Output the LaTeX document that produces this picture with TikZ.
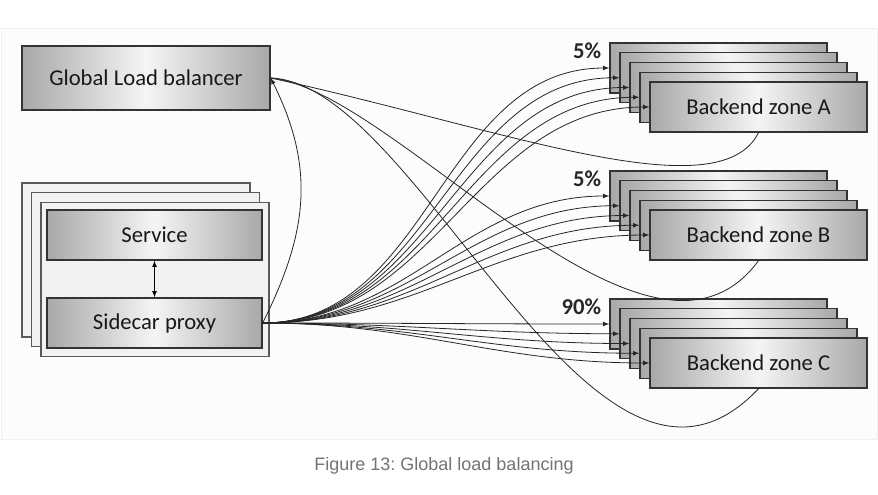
\documentclass[tikz,border=0pt]{standalone}
\usepackage{fontspec}
\setmainfont{Carlito}
\newfontfamily\capfont{Liberation Sans}
\usetikzlibrary{arrows}
\frenchspacing

\begin{document}
\begin{tikzpicture}[x=0.75pt,y=0.75pt,>=latex,
  box/.style={draw=black!80,line width=1pt,left color=black!34,right color=black!34,
    middle color=black!4,text=black!90,font=\fontsize{17}{20}\selectfont,inner sep=0pt},
  glbbox/.style={box,minimum width=186pt,minimum height=48pt},
  podbox/.style={box,minimum width=161.25pt,minimum height=37.5pt},
  backend/.style={box,minimum width=162.75pt,minimum height=37.5pt},
  sheet/.style={draw=black!65,line width=0.8pt,fill=black!5,
    minimum width=171pt,minimum height=115.5pt},
  pct/.style={font=\fontsize{17}{20}\selectfont\bfseries,text=black!85,inner sep=0pt,anchor=east},
  flow/.style={->,line width=0.6pt,black!85},
  link/.style={line width=0.6pt,black!85},
  caption/.style={font=\capfont\fontsize{13.5}{16}\selectfont,text=black!55}]
\useasboundingbox (0,0) rectangle (878,-494);
\draw[black!6,fill=black!1] (1,-28) rectangle (877,-439);

\node[glbbox] (glb) at (146,-78) {Global Load balancer};

\foreach \i in {0,1,2}
  \node[sheet] (sheet\i) at ({136+9.5*\i},{-260-9.75*\i}) {};
\node[podbox] (svc) at (154.5,-235) {Service};
\node[podbox] (proxy) at (154.5,-323) {Sidecar proxy};
\draw[<->,line width=0.6pt] (svc) -- (proxy);

\foreach \z/\t/\p in {A/43/5\%,B/171/5\%,C/299/90\%} {
  \foreach \i in {1,...,4}
    \node[backend] (\z\i) at ({718.5+10*(\i-1)},{-(\t+25+9.75*(\i-1))}) {};
  \node[backend] (\z5) at (758.5,{-(\t+64)}) {Backend zone \z};
  \node[pct] (pct\z) at ([xshift=-6pt,yshift=-6.4pt]\z1.north west) {\p};
}

\foreach \z in {A,B,C}
  \foreach \i in {1,...,5}
    \draw[flow] (proxy.east) to[out=0,in=180] (\z\i.west);

\draw[flow] (proxy.east) .. controls +(45,90) and +(45,-90) .. (glb.east);
\draw[link] (A5.south) .. controls +(-40,-80) and +(230,-50) .. (glb.east);
\draw[link] (B5.south) .. controls +(-110,-150) and +(125,-12) .. (glb.east);
\draw[link] (C5.south) .. controls +(-165,-175) and +(150,-5) .. (glb.east);

\node[caption] (cap) at (444,-466) {Figure 13: Global load balancing};
\end{tikzpicture}
\end{document}
